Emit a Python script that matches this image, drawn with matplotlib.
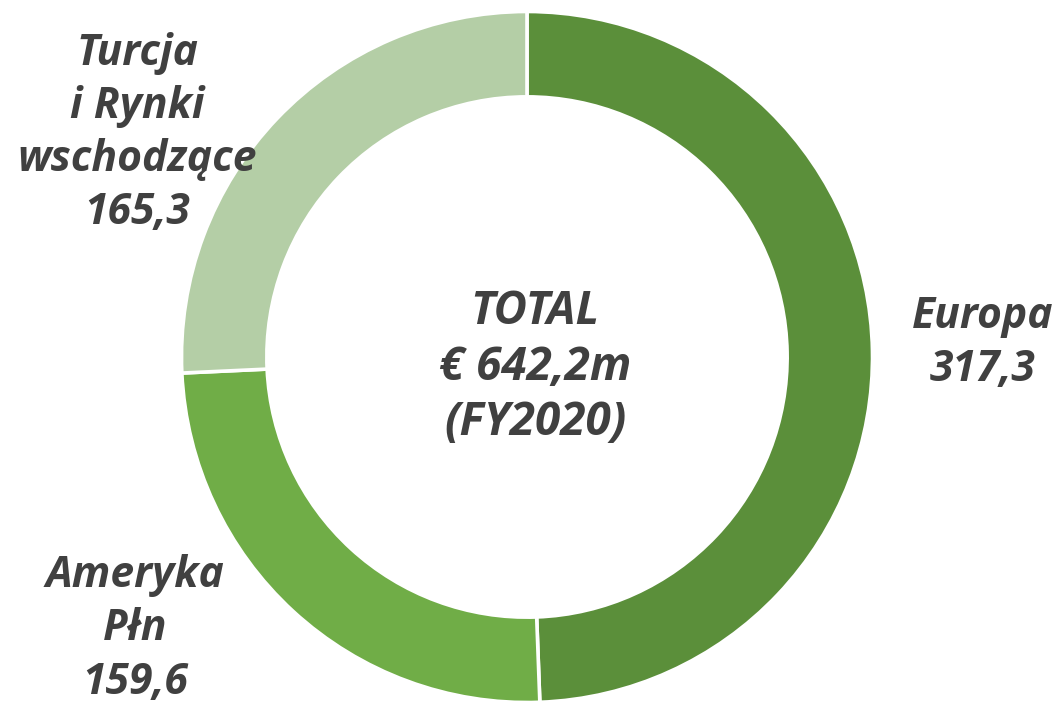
import matplotlib.pyplot as plt

# Revenue by region, FY2020 (EUR m)
regions = ['Europa', 'Ameryka\nPłn', 'Turcja\ni Rynki\nwschodzące']
values = [317.3, 159.6, 165.3]
value_labels = ['317,3', '159,6', '165,3']
total_label = 'TOTAL\n€ 642,2m\n(FY2020)'

colors = ['#5B8F3A', '#70AD47', '#B4CEA6']
text_color = '#404040'

plt.rcParams['font.family'] = ['Open Sans', 'DejaVu Sans']

fig = plt.figure(figsize=(10.61, 7.07), dpi=100)
ax = fig.add_axes([0, 0, 1, 1])

# ring centred at pixel (527, 357), radius ~345 px
scale = 345.5
cx, cy = 527, 357

ax.pie(values, colors=colors, startangle=90, counterclock=False,
       radius=1.0, wedgeprops={'width': 0.247, 'edgecolor': 'white', 'linewidth': 2.6})
ax.set_aspect('equal')
ax.set_xlim(-cx / scale, (1061 - cx) / scale)
ax.set_ylim((cy - 707) / scale, cy / scale)
ax.axis('off')

base = dict(fontweight='bold', fontstyle='italic', color=text_color,
            ha='center', va='center')

# centre text
ax.text((535 - cx) / scale, (cy - 367) / scale, total_label,
        fontsize=33, linespacing=1.24, **base)

# label positions in pixels (layout only)
label_pos = [(983, 343), (135, 629), (137, 133)]
for name, val, (px, py) in zip(regions, value_labels, label_pos):
    ax.text((px - cx) / scale, (cy - py) / scale, name + '\n' + val,
            fontsize=30.7, linespacing=1.31, **base)

fig.savefig('out.png', dpi=100)
